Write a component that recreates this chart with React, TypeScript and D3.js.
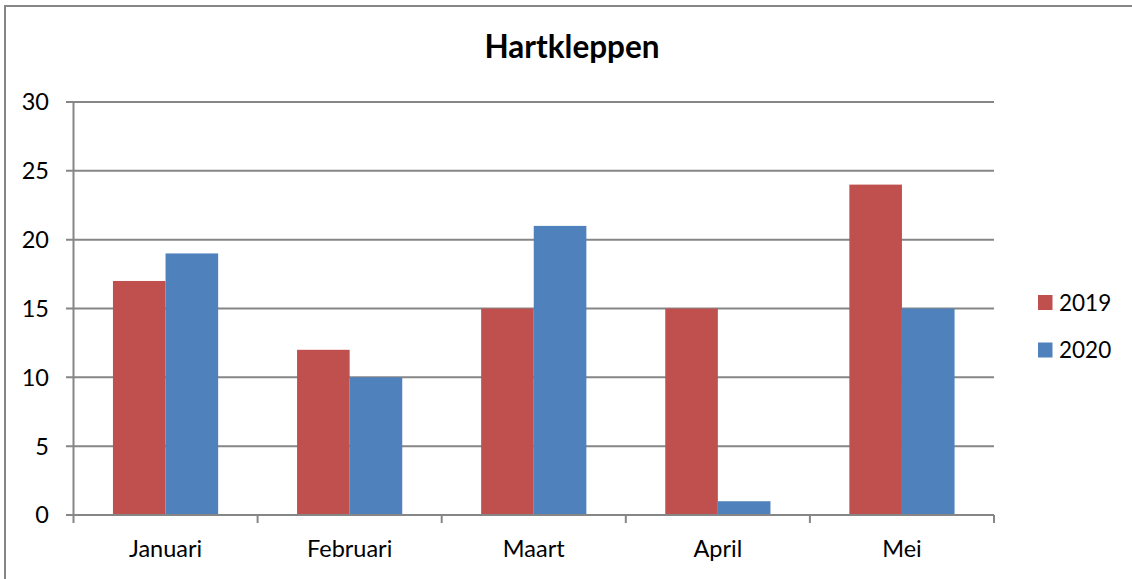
import React from "react";
import * as d3 from "d3";

const categories = ["Januari", "Februari", "Maart", "April", "Mei"];
const seriesNames = ["2019", "2020"];
const values2019 = [17, 12, 15, 15, 24];
const values2020 = [19, 10, 21, 1, 15];
const yTicks = [0, 5, 10, 15, 20, 25, 30];
const colors = ["#C0504D", "#4F81BD"];
const title = "Hartkleppen";

const W = 1132;
const H = 579;
const plot = { left: 73.5, right: 994, top: 102, bottom: 515 };
const FONT = "Lato, 'Open Sans', sans-serif";
const GRID = "#868686";
const FS = 23.5;

export default function App() {
  const x = d3
    .scaleBand<string>()
    .domain(categories)
    .range([plot.left, plot.right])
    .paddingInner(0)
    .paddingOuter(0);
  const y = d3.scaleLinear().domain([0, 30]).range([plot.bottom, plot.top]);
  const bw = x.bandwidth();
  const barW = bw / 3.5; // gap width 150%
  const sub = d3
    .scaleBand<string>()
    .domain(seriesNames)
    .range([0.75 * barW, 0.75 * barW + 2 * barW]);
  const series = [values2019, values2020];

  const boundaries = categories.map((c) => x(c) as number).concat([plot.right]);

  return (
    <div style={{ position: "fixed", left: 0, top: 0 }}>
      <svg width={W} height={H} style={{ display: "block", background: "#fff" }}>
        <rect x={0} y={0} width={W} height={H} fill="#fff" />
        <rect x={5} y={6} width={W + 20} height={H + 20} fill="none" stroke={GRID} strokeWidth={2} />
        <text
          x={572}
          y={57.5}
          textAnchor="middle"
          fontFamily={FONT}
          fontWeight="bold"
          fontSize={31.5}
          fill="#000"
        >
          {title}
        </text>
        {/* gridlines */}
        {yTicks.map((t) => (
          <line
            key={"g" + t}
            x1={66}
            x2={plot.right}
            y1={y(t)}
            y2={y(t)}
            stroke={GRID}
            strokeWidth={2}
          />
        ))}
        {yTicks.map((t) => (
          <text
            key={"yt" + t}
            x={49}
            y={y(t)}
            dy="0.36em"
            textAnchor="end"
            fontFamily={FONT}
            fontSize={FS}
            fill="#000"
          >
            {t}
          </text>
        ))}
        {/* bars */}
        {series.map((vals, si) =>
          vals.map((v, i) => (
            <rect
              key={"b" + si + "-" + i}
              x={(x(categories[i]) as number) + (sub(seriesNames[si]) as number)}
              y={y(v)}
              width={sub.bandwidth()}
              height={y(0) - y(v)}
              fill={colors[si]}
            />
          ))
        )}
        {/* y axis */}
        <line x1={plot.left} x2={plot.left} y1={plot.top} y2={plot.bottom} stroke={GRID} strokeWidth={2} />
        {/* x axis */}
        <line x1={plot.left} x2={plot.right} y1={plot.bottom} y2={plot.bottom} stroke={GRID} strokeWidth={2} />
        {boundaries.map((b, i) => (
          <line key={"xt" + i} x1={b} x2={b} y1={plot.bottom} y2={plot.bottom + 8} stroke={GRID} strokeWidth={2} />
        ))}
        {categories.map((c) => (
          <text
            key={"xl" + c}
            x={(x(c) as number) + bw / 2}
            y={557}
            textAnchor="middle"
            fontFamily={FONT}
            fontSize={FS}
            fill="#000"
          >
            {c}
          </text>
        ))}
        {/* legend */}
        {seriesNames.map((s, i) => (
          <g key={"lg" + s} transform={`translate(1038, ${295 + i * 47.5})`}>
            <rect x={0} y={0} width={14.5} height={15} fill={colors[i]} />
            <text x={21} y={7.5} dy="0.36em" fontFamily={FONT} fontSize={22.5} fill="#000">
              {s}
            </text>
          </g>
        ))}
      </svg>
    </div>
  );
}
